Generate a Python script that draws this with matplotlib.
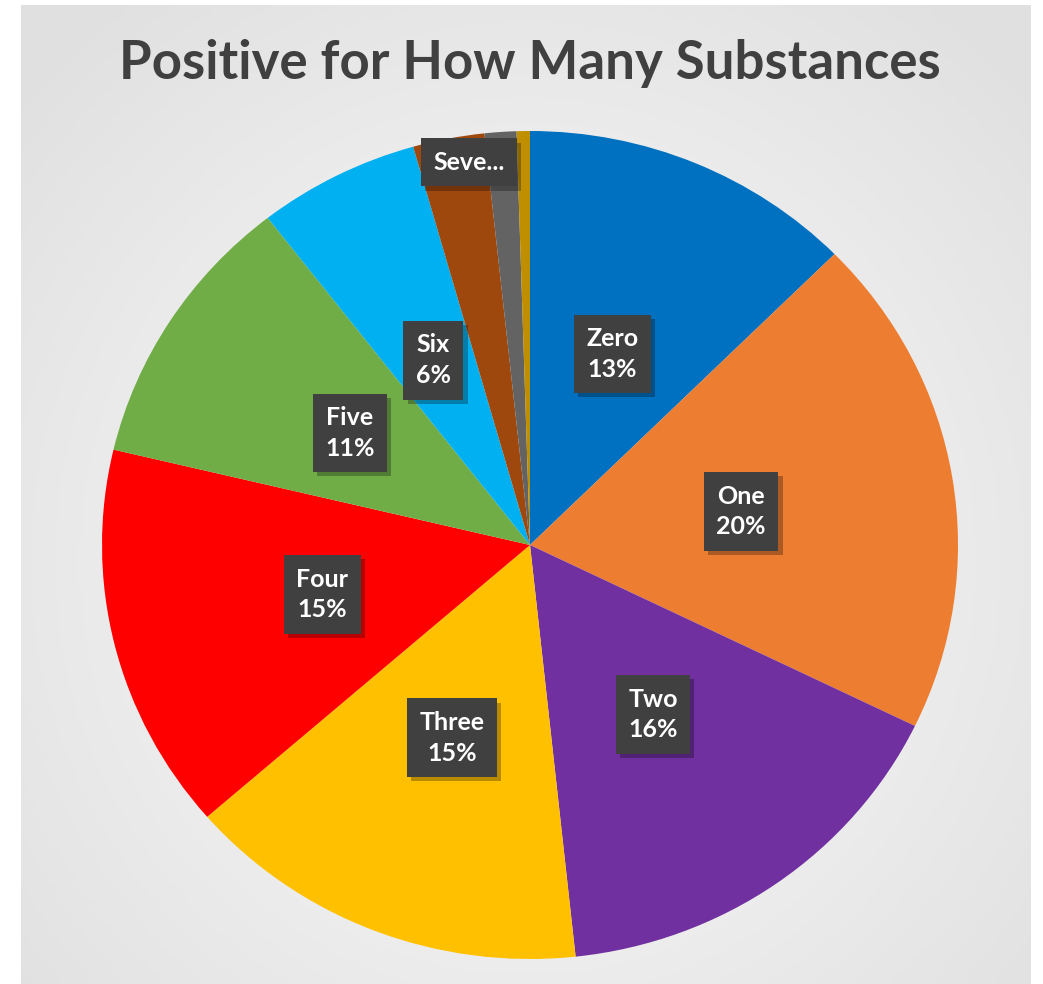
import numpy as np
import matplotlib
matplotlib.use("Agg")
import matplotlib.pyplot as plt
import matplotlib.patheffects as pe

categories = ["Zero", "One", "Two", "Three", "Four", "Five", "Six", "Seven", "Eight", "Nine"]
values = [12.6, 19.6, 16.1, 15.3, 15.1, 10.8, 6.1, 2.7, 1.2, 0.5]
colors = ["#0070C0", "#ED7D31", "#7030A0", "#FFC000", "#FF0000",
          "#70AD47", "#00B0F0", "#9E480E", "#636363", "#BF8F00"]
show_label = [True, True, True, True, True, True, True, True, False, False]
title = "Positive for How Many Substances"

FONT = ["Lato", "DejaVu Sans"]

W, H = 1043, 984
fig = plt.figure(figsize=(W / 100, H / 100), dpi=100)
fig.patch.set_facecolor("white")

# background panel with radial gradient
bg = fig.add_axes([21 / W, 0, (1031 - 21) / W, (984 - 5) / H])
yy, xx = np.mgrid[0:300, 0:300]
cx, cy = 150, 170
d = np.sqrt(((xx - cx) / 150.0) ** 2 + ((yy - cy) / 160.0) ** 2)
d = np.clip(d / 1.35, 0, 1)
c0 = np.array([0.99, 0.99, 0.99])
c1 = np.array([0.88, 0.88, 0.88])
img = c0[None, None, :] * (1 - d[..., None]) + c1[None, None, :] * d[..., None]
bg.imshow(img, aspect="auto", extent=[0, 1, 0, 1], origin="upper")
bg.set_axis_off()

# pie axes
cxp, cyp = 530, 545
rx, ry = 428, 414
ax = fig.add_axes([(cxp - rx) / W, (H - cyp - ry) / H, 2 * rx / W, 2 * ry / H])
wedges, _ = ax.pie(values, colors=colors, startangle=90, counterclock=False,
                   radius=1.0, wedgeprops=dict(linewidth=0))
ax.set_aspect("auto")
ax.set_xlim(-1, 1)
ax.set_ylim(-1, 1)
ax.set_axis_off()

total = sum(values)
label_r = [0.50, 0.50, 0.50, 0.50, 0.50, 0.50, 0.50, 0.935, 0.5, 0.5]
angle_shift = [0, 0, 0, 0, 0, 0, 0, 2.2, 0, 0]
for i, w in enumerate(wedges):
    if not show_label[i]:
        continue
    mid = np.deg2rad((w.theta1 + w.theta2) / 2 - angle_shift[i])
    x = label_r[i] * np.cos(mid)
    y = label_r[i] * np.sin(mid)
    pct = round(values[i] / total * 100)
    if categories[i] == "Seven":
        txt = "Seve..."
    else:
        txt = f"{categories[i]}\n{pct}%"
    t = ax.text(x, y, txt, ha="center", va="center", fontsize=18, fontweight="bold",
                family=FONT, linespacing=1.4, color="white", zorder=5,
                bbox=dict(boxstyle="square,pad=0.5", facecolor="#404040", edgecolor="none"))
    t.get_bbox_patch().set_path_effects(
        [pe.SimplePatchShadow(offset=(3, -3), shadow_rgbFace="black", alpha=0.28), pe.Normal()])

fig.text(530 / W, 1 - 63 / H, title, ha="center", va="center",
         fontsize=38, fontweight="bold", color="#404040", family=FONT)

fig.savefig("out.png", dpi=100)
